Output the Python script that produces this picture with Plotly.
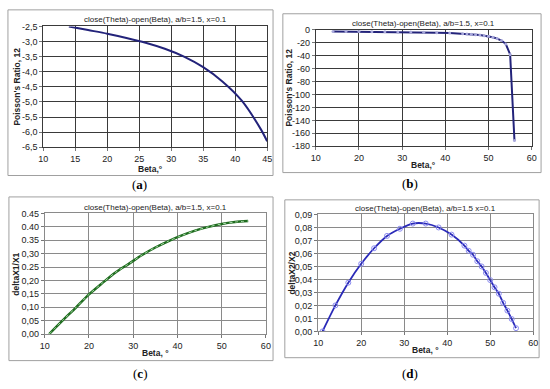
import plotly.graph_objects as go

# ---------------- data ----------------
beta_ab = [14, 17, 20, 23, 26, 29, 32, 35, 38, 41, 44, 45,
           46, 47, 48, 49, 50, 51, 52, 53, 54, 55, 56]
poisson_12 = [-2.50, -2.62, -2.74, -2.88, -3.04, -3.24, -3.50, -3.85, -4.32, -4.95, -5.90, -6.30,
              -6.8, -7.4, -8.1, -9.0, -10.1, -11.5, -13.5, -16.5, -22.0, -38.0, -171.0]

beta_c = [11, 14, 17, 20, 23, 26, 29, 32, 35, 38, 41, 44, 47, 50, 53, 56]
delta_x1 = [0.000, 0.050, 0.098, 0.148, 0.190, 0.230, 0.262, 0.295, 0.323, 0.347,
            0.368, 0.386, 0.400, 0.411, 0.418, 0.422]

beta_d = [11, 14, 17, 20, 23, 26, 29, 32, 35, 38, 41, 44, 45, 46, 47, 48, 49, 50,
          51, 52, 53, 54, 55, 56]
delta_x2 = [0.000, 0.020, 0.0375, 0.052, 0.064, 0.0735, 0.079, 0.083, 0.083, 0.080,
            0.0745, 0.066, 0.062, 0.059, 0.054, 0.050, 0.045, 0.0395, 0.034, 0.029,
            0.022, 0.016, 0.0095, 0.0025]

title_abc = "close(Theta)-open(Beta), a/b=1.5, x=0.1"
title_d = "close(Theta)-open(Beta), a/b=1.5 x=0.1"

ya_vals = [-2.5, -3.0, -3.5, -4.0, -4.5, -5.0, -5.5, -6.0, -6.5]
ya_text = ["-2,5", "-3,0", "-3,5", "-4,0", "-4,5", "-5,0", "-5,5", "-6,0", "-6,5"]
yb_vals = [0, -20, -40, -60, -80, -100, -120, -140, -160, -180]
yb_text = ["0", "-20", "-40", "-60", "-80", "-100", "-120", "-140", "-160", "-180"]
yc_vals = [0.45, 0.40, 0.35, 0.30, 0.25, 0.20, 0.15, 0.10, 0.05, 0.00]
yc_text = ["0.45", "0.40", "0.35", "0,30", "0.25", "0,20", "0,15", "0,10", "0,05", "0,00"]
yd_vals = [0.09, 0.08, 0.07, 0.06, 0.05, 0.04, 0.03, 0.02, 0.01, 0.00]
yd_text = ["0,09", "0,08", "0,07", "0,06", "0,05", "0,04", "0,03", "0,02", "0,01", "0,00"]
xa_vals = [10, 15, 20, 25, 30, 35, 40, 45]
x_vals = [10, 20, 30, 40, 50, 60]

# ---------------- helpers ----------------
W, H = 550, 389
def X(px): return px / W
def Y(py): return 1 - py / H

FONT = "Arial, Liberation Sans, sans-serif"

fig = go.Figure()

# (a)
sub_a = [(b, p) for b, p in zip(beta_ab, poisson_12) if b <= 45]
fig.add_trace(go.Scatter(x=[s[0] for s in sub_a], y=[s[1] for s in sub_a],
                         mode="lines", line=dict(color="#23237a", width=2, shape="spline", smoothing=0.8),
                         xaxis="x", yaxis="y", showlegend=False))
# (b)
fig.add_trace(go.Scatter(x=beta_ab, y=poisson_12, mode="lines+markers",
                         line=dict(color="#23237a", width=2),
                         marker=dict(size=3, color="#a8a8dc"),
                         xaxis="x2", yaxis="y2", showlegend=False))
# (c)
fig.add_trace(go.Scatter(x=beta_c, y=delta_x1, mode="lines",
                         line=dict(color="#1f6b1f", width=2.5, shape="spline", smoothing=0.8),
                         xaxis="x3", yaxis="y3", showlegend=False))
fig.add_trace(go.Scatter(x=beta_c, y=delta_x1, mode="lines",
                         line=dict(color="#a8dca8", width=1, dash="dot", shape="spline", smoothing=0.8),
                         xaxis="x3", yaxis="y3", showlegend=False))
# (d)
fig.add_trace(go.Scatter(x=beta_d, y=delta_x2, mode="lines+markers",
                         line=dict(color="#2a2ab8", width=1.8, shape="spline", smoothing=0.8),
                         marker=dict(size=5, color="rgba(255,255,255,0)",
                                     line=dict(color="#8c8cf0", width=1)),
                         xaxis="x4", yaxis="y4", showlegend=False))

def xax(dom, rng, vals, anchor, grid):
    return dict(domain=[X(dom[0]), X(dom[1])], range=rng, tickvals=vals,
                anchor=anchor, showgrid=True, gridcolor=grid, gridwidth=1,
                showline=True, linecolor=grid, linewidth=1, mirror=True,
                ticks="outside", ticklen=3, tickcolor="#777",
                tickfont=dict(family=FONT, size=9, color="#222"), zeroline=False)

def yax(dom, rng, vals, text, anchor, grid):
    return dict(domain=[Y(dom[1]), Y(dom[0])], range=rng, tickvals=vals, ticktext=text,
                anchor=anchor, showgrid=True, gridcolor=grid, gridwidth=1,
                showline=True, linecolor=grid, linewidth=1, mirror=True,
                ticks="outside", ticklen=3, tickcolor="#777",
                tickfont=dict(family=FONT, size=9, color="#222"), zeroline=False)

fig.update_layout(
    width=W, height=H, margin=dict(l=0, r=0, t=0, b=0),
    paper_bgcolor="white", plot_bgcolor="white",
    xaxis=xax((39, 267), [10, 45], xa_vals, "y", "#3a3a3a"),
    yaxis=yax((22, 146), [-6.5, -2.5], ya_vals, ya_text, "x", "#3a3a3a"),
    xaxis2=xax((316.5, 536.5), [10, 60], x_vals, "y2", "#3a3a3a"),
    yaxis2=yax((25.5, 145), [-180, 0], yb_vals, yb_text, "x2", "#3a3a3a"),
    xaxis3=xax((40.5, 265.7), [10, 60], x_vals, "y3", "#8a8a8a"),
    yaxis3=yax((214, 337.7), [0, 0.45], yc_vals, yc_text, "x3", "#8a8a8a"),
    xaxis4=xax((319, 538), [10, 60], x_vals, "y4", "#8a8a8a"),
    yaxis4=yax((215, 335), [0, 0.09], yd_vals, yd_text, "x4", "#8a8a8a"),
)

# panel borders
for (x0, y0, x1, y1) in [(3, 5, 273, 175), (283, 9, 546, 172), (4, 197, 273, 365), (285, 200, 544, 362)]:
    fig.add_shape(type="rect", xref="paper", yref="paper",
                  x0=X(x0), x1=X(x1), y0=Y(y1), y1=Y(y0),
                  line=dict(color="#a0a0a0", width=1), fillcolor="rgba(0,0,0,0)", layer="below")

def ann(text, px, py, size=8, bold=False, angle=0, family=FONT, color="#222"):
    t = f"<b>{text}</b>" if bold else text
    fig.add_annotation(text=t, x=X(px), y=Y(py), xref="paper", yref="paper",
                       showarrow=False, xanchor="center", yanchor="middle",
                       textangle=angle, font=dict(family=family, size=size, color=color))

# titles
ann(title_abc, 153, 15)
ann(title_abc, 426, 19)
ann(title_abc, 153, 208)
ann(title_d, 428, 209)
# axis titles
ann("Poisson's Ratio, 12", 12, 84, 8.5, True, -90)
ann("Beta,°", 148, 168, 8.5, True)
ann("Poisson's Ratio, 12", 289, 85, 8.5, True, -90)
ann("Beta,°", 426, 164, 8.5, True)
ann("deltaX1/X1", 11, 276, 8.5, True, -90)
ann("Beta, °", 153, 357, 8.5, True)
ann("deltaX2/X2", 292, 275, 8.5, True, -90)
ann("Beta, °", 428, 354, 8.5, True)
# panel labels
SERIF = "Liberation Serif, Times New Roman, serif"
ann("(<b>a</b>)", 137, 184, 13, False, 0, SERIF, "#000")
ann("(<b>b</b>)", 412, 183, 13, False, 0, SERIF, "#000")
ann("(<b>c</b>)", 137, 378, 13, False, 0, SERIF, "#000")
ann("(<b>d</b>)", 412, 378, 13, False, 0, SERIF, "#000")

fig.write_html("out.html", config={"displayModeBar": False},
               post_script="document.body.style.margin='0';document.body.style.overflow='hidden';")
